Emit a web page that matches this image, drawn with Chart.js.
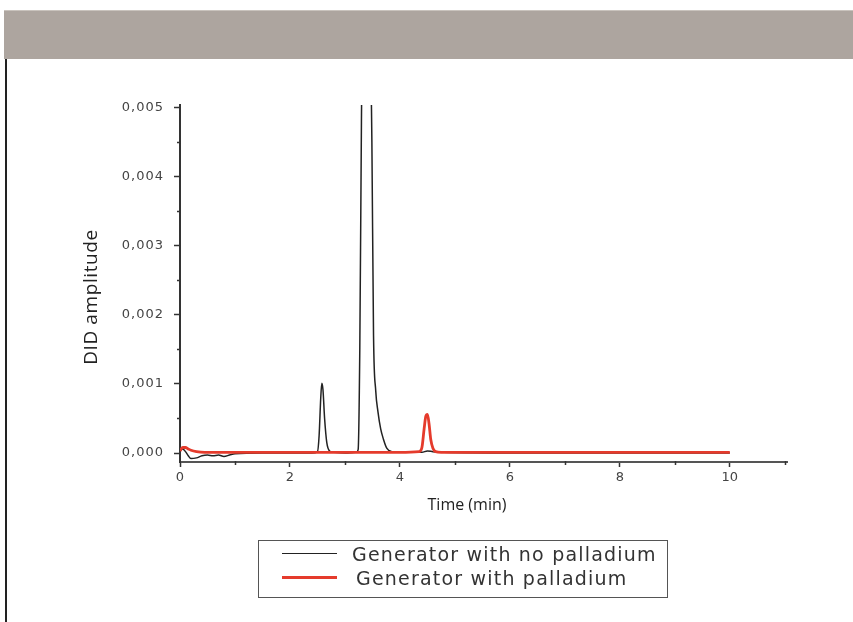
<!DOCTYPE html>
<html>
<head>
<meta charset="utf-8">
<script src="https://cdn.jsdelivr.net/npm/chart.js@4.4.1/dist/chart.umd.min.js"></script>
<style>
  html, body { margin: 0; padding: 0; background: #fff; }
  body { width: 853px; height: 622px; position: relative; overflow: hidden; }
  #banner { position: absolute; left: 4px; top: 10px; width: 849px; height: 49px;
            background: #ada59f; border-top: 1px solid #c9c3bd; box-sizing: border-box; }
  #edge { position: absolute; left: 5px; top: 59px; width: 2px; height: 563px; background: #222; }
  #wrap { position: absolute; left: 0; top: 0; width: 853px; height: 622px; }
  #legend { position: absolute; left: 258px; top: 540px; width: 410px; height: 58px;
            border: 1.5px solid #555; box-sizing: border-box;
            font-family: "DejaVu Sans", sans-serif; font-size: 19px; color: #333; }
  .row { position: absolute; left: 0; height: 24px; display: flex; align-items: center; }
  .row .swatch { position: absolute; left: 23px; width: 55px; }
  .row .label { position: absolute; white-space: nowrap; letter-spacing: 1.2px; }
</style>
</head>
<body>
<div id="banner"></div>
<div id="edge"></div>
<div id="wrap"><canvas id="chart" width="853" height="622"></canvas></div>
<div id="legend"></div>
<script>
const SERIES_NAMES = ['Generator with no palladium', 'Generator with palladium'];
const SERIES_COLORS = ['#222222', '#e53b2c'];
const X_TITLE = 'Time (min)';
const Y_TITLE = 'DID amplitude';

// sans palladium
const noPdTime = [0, 0.05, 0.1, 0.15, 0.2, 0.3, 0.4, 0.5, 0.6, 0.7, 0.8, 0.9, 1.0, 1.5, 2.0, 2.4, 2.5,
  2.53, 2.56, 2.58, 2.6, 2.63, 2.67, 2.72, 2.8, 3.0, 3.2, 3.24, 3.27, 3.3, 3.33, 3.4, 3.47, 3.49,
  3.52, 3.56, 3.6, 3.65, 3.7, 3.76, 3.85, 4.0, 4.4, 4.5, 4.6, 4.8, 6.0, 8.0, 10.0];
const noPdAmp = [0.00003, 0.00006, 0.00002, -0.00004, -0.00008, -0.00007, -0.00004, -0.00003, -0.00004,
  -0.00003, -0.00005, -0.00003, -0.00001, 0, 0, 0, 0.00002,
  0.00025, 0.0008, 0.00101, 0.00092, 0.0005, 0.00015, 0.00003, 0.00001, 0, 0.00001, 0.00005, 0.0015,
  0.0048, 0.0075, 0.0095, 0.0058, 0.0045,
  0.0017, 0.0009, 0.0006, 0.00035, 0.0002, 0.00007, 0.00002, 0.00001, 0.00001, 0.00003, 0.00002,
  0.00001, 0, 0, 0];

// avec palladium
const pdTime = [0, 0.05, 0.1, 0.15, 0.2, 0.3, 0.45, 0.7, 1.0, 2.0, 3.0, 4.0, 4.35, 4.4, 4.44, 4.47,
  4.5, 4.53, 4.56, 4.6, 4.65, 4.75, 5.0, 6.0, 8.0, 10.0];
const pdAmp = [0.00003, 0.00008, 0.00008, 0.00006, 0.00004, 0.00002, 0.00001, 0.00001, 0.00001,
  0.00001, 0.00001, 0.00001, 0.00002, 0.00008, 0.00035, 0.00053,
  0.00056, 0.00042, 0.0002, 0.00007, 0.00002, 0.00001, 0.00001, 0.00001, 0.00001, 0.00001];

const xMajor = [0, 2, 4, 6, 8, 10];
const xMinor = [1, 3, 5, 7, 9, 11];
const yMajor = [0, 0.001, 0.002, 0.003, 0.004, 0.005];
const yMinor = [0.0005, 0.0015, 0.0025, 0.0035, 0.0045];

const toPoints = (t, a) => t.map((x, i) => ({ x, y: a[i] }));

// legende HTML
document.getElementById('legend').innerHTML = SERIES_NAMES.map((name, i) => `
  <div class="row" style="top:${i === 0 ? 1 : 25}px">
    <span class="swatch" style="top:${i === 0 ? 11 : 10}px;height:${i === 0 ? 1 : 3}px;background:${SERIES_COLORS[i]}"></span>
    <span class="label" style="left:${i === 0 ? 93 : 97}px">${name}</span>
  </div>`).join('');

// petites graduations + titres d'axes
const extras = {
  id: 'extras',
  afterDatasetsDraw(chart) {
    // les libelles y (z=1) sont dessines apres, avec un espacement plus large
    chart.ctx.letterSpacing = '1px';
  },
  afterDraw(chart) {
    const { ctx, scales: { x, y } } = chart;
    ctx.letterSpacing = '0px';
    ctx.save();
    ctx.strokeStyle = '#333';
    ctx.lineWidth = 1.5;
    ctx.beginPath();
    yMinor.forEach(v => {
      const py = Math.round(y.getPixelForValue(v)) + 0.5;
      ctx.moveTo(x.left - 3, py);
      ctx.lineTo(x.left + 1, py);
    });
    xMinor.forEach(v => {
      const px = Math.round(x.getPixelForValue(v)) + 0.5;
      ctx.moveTo(px, y.bottom - 1);
      ctx.lineTo(px, y.bottom + 3);
    });
    ctx.stroke();

    ctx.fillStyle = '#222';
    ctx.textAlign = 'center';
    ctx.textBaseline = 'middle';
    ctx.font = '16px "Open Sans"';
    ctx.fillText(X_TITLE, 467, 505);
    ctx.translate(92, 297);
    ctx.rotate(-Math.PI / 2);
    ctx.font = '19px "Open Sans"';
    ctx.letterSpacing = '0.6px';
    ctx.fillText(Y_TITLE, 0, 0);
    ctx.restore();
    ctx.letterSpacing = '0px';
  },
};

new Chart(document.getElementById('chart'), {
  type: 'line',
  data: {
    datasets: [
      {
        label: SERIES_NAMES[1],
        data: toPoints(pdTime, pdAmp),
        borderColor: SERIES_COLORS[1],
        borderWidth: 2.8,
        pointRadius: 0,
        cubicInterpolationMode: 'monotone',
        order: 0,
      },
      {
        label: SERIES_NAMES[0],
        data: toPoints(noPdTime, noPdAmp),
        borderColor: SERIES_COLORS[0],
        borderWidth: 1.5,
        pointRadius: 0,
        cubicInterpolationMode: 'monotone',
        order: 1,
      },
    ],
  },
  options: {
    responsive: false,
    animation: false,
    events: [],
    layout: { padding: { left: 83, top: 105, right: 66, bottom: 107 } },
    plugins: { legend: { display: false }, tooltip: { enabled: false } },
    scales: {
      x: {
        type: 'linear',
        min: 0, max: 11.04,
        afterBuildTicks: s => { s.ticks = xMajor.map(value => ({ value })); },
        afterFit: s => { s.height = 53; },
        grid: { drawOnChartArea: false, tickLength: 5, tickWidth: 1.5, tickColor: '#333' },
        border: { color: '#555', width: 2 },
        ticks: {
          padding: 3, color: '#444', maxRotation: 0,
          font: { family: 'DejaVu Sans', size: 13 },
          callback: v => String(v),
        },
      },
      y: {
        min: -0.00013, max: 0.00504,
        afterBuildTicks: s => { s.ticks = yMajor.map(value => ({ value })); },
        afterFit: s => { s.width = 97; },
        grid: { drawOnChartArea: false, tickLength: 6, tickWidth: 1.5, tickColor: '#333' },
        border: { color: '#333', width: 2 },
        ticks: {
          z: 1, padding: 10, color: '#444',
          font: { family: 'DejaVu Sans', size: 13 },
          callback: v => v.toFixed(3).replace('.', ','),
        },
      },
    },
  },
  plugins: [extras],
});
</script>
</body>
</html>
